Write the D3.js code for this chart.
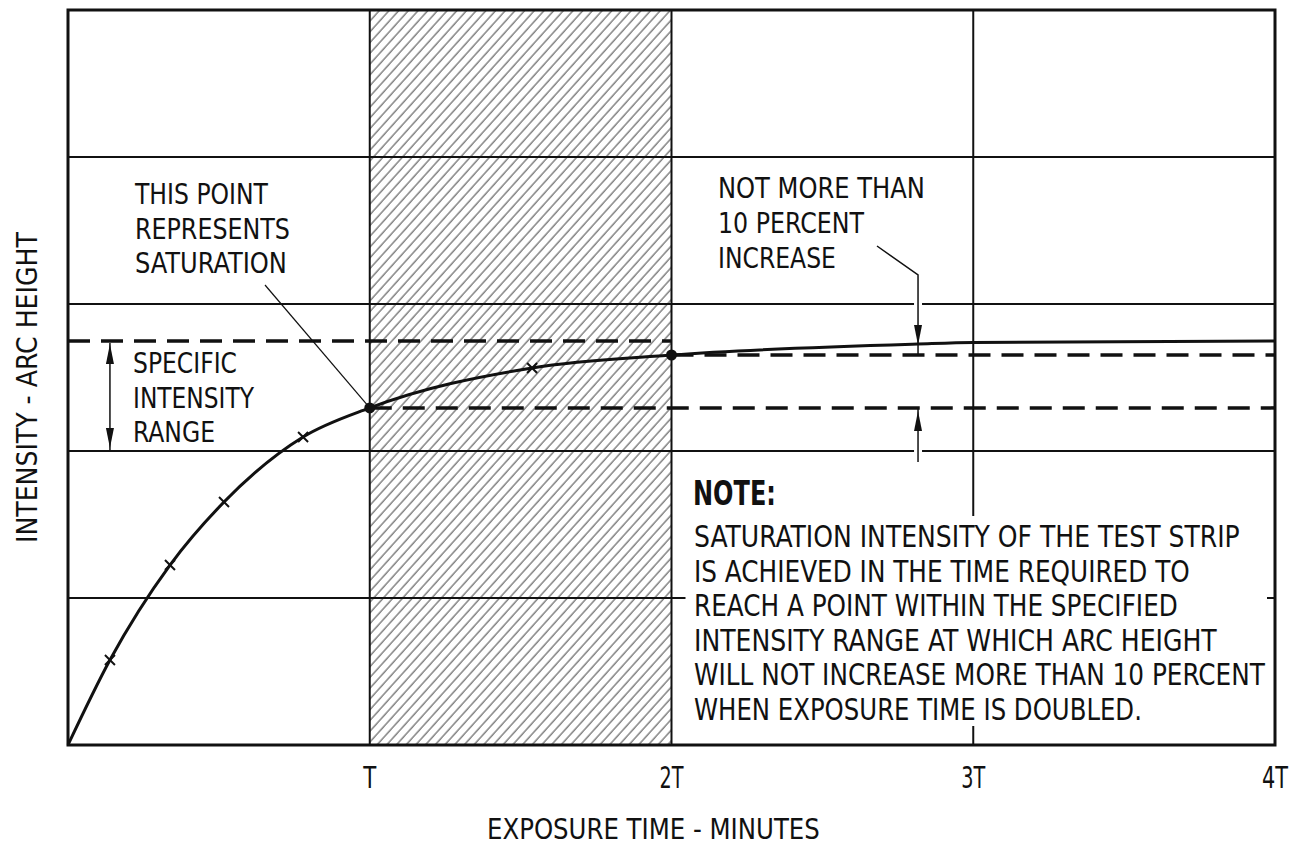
<!DOCTYPE html>
<html>
<head>
<meta charset="utf-8">
<script src="https://cdn.jsdelivr.net/npm/d3@7"></script>
<style>
  html, body { margin: 0; padding: 0; background: #fff; }
  svg { display: block; }
  text { font-family: "Liberation Sans Narrow", "Arial Narrow", "DejaVu Sans Condensed", "Liberation Sans", sans-serif; fill: #111; }
</style>
</head>
<body>
<svg id="chart" width="1297" height="848"></svg>
<script>
// ---- data ----
const xDomain = [0, 4];
const yDomain = [0, 5];
const tickValues = [1, 2, 3, 4];
const tickLabels = ["T", "2T", "3T", "4T"];
const gridX = [1, 2, 3];
const gridY = [1, 2, 3, 4];

// intensity curve (exposure time in units of T, intensity in grid units)
const curveX = [0, 0.139, 0.338, 0.517, 0.779, 1.0, 1.538, 2.0, 2.817, 3.0, 4.0];
const curveY = [0, 0.578, 1.224, 1.653, 2.095, 2.293, 2.565, 2.653, 2.728, 2.738, 2.748];

// tick ("x") marks along the curve
const markX = [0.139, 0.338, 0.517, 0.779, 1.538];
const markY = [0.578, 1.224, 1.653, 2.095, 2.565];

// filled points: saturation (T) and doubled exposure (2T)
const dotX = [1, 2];
const dotY = [2.293, 2.653];

// reference levels
const rangeTop = 2.748;
const rangeBottom = 2.0;
const satLevel = 2.293;
const doubledLevel = 2.653;
const hatchFrom = 1, hatchTo = 2;
const arrowAtX = 2.817;

const xTitle = "EXPOSURE TIME - MINUTES";
const yTitle = "INTENSITY - ARC HEIGHT";
const satLabel = ["THIS POINT", "REPRESENTS", "SATURATION"];
const rangeLabel = ["SPECIFIC", "INTENSITY", "RANGE"];
const incLabel = ["NOT MORE THAN", "10 PERCENT", "INCREASE"];
const noteTitle = "NOTE:";
const noteLines = [
  "SATURATION INTENSITY OF THE TEST STRIP",
  "IS ACHIEVED IN THE TIME REQUIRED TO",
  "REACH A POINT WITHIN THE SPECIFIED",
  "INTENSITY RANGE AT WHICH ARC HEIGHT",
  "WILL NOT INCREASE MORE THAN 10 PERCENT",
  "WHEN EXPOSURE TIME IS DOUBLED."
];

// ---- drawing ----
const svg = d3.select("#chart");
const L = 68, R = 1275, T = 10, B = 745;
const x = d3.scaleLinear().domain(xDomain).range([L, R]);
const y = d3.scaleLinear().domain(yDomain).range([B, T]);

const defs = svg.append("defs");
const pat = defs.append("pattern")
  .attr("id", "hatch").attr("patternUnits", "userSpaceOnUse")
  .attr("width", 7.2).attr("height", 7.2)
  .attr("patternTransform", "rotate(42)");
pat.append("line").attr("x1", 1).attr("y1", -1).attr("x2", 1).attr("y2", 9)
  .attr("stroke", "#555").attr("stroke-width", 1.1);

svg.append("rect").attr("width", 1297).attr("height", 848).attr("fill", "#fff");

// hatched band T..2T
svg.append("rect")
  .attr("x", x(hatchFrom)).attr("y", y(yDomain[1]))
  .attr("width", x(hatchTo) - x(hatchFrom)).attr("height", y(yDomain[0]) - y(yDomain[1]))
  .attr("fill", "url(#hatch)");

// grid
const g = svg.append("g").attr("stroke", "#111").attr("stroke-width", 2);
g.selectAll("line.v").data(gridX).join("line").attr("class", "v")
  .attr("x1", d => x(d)).attr("x2", d => x(d)).attr("y1", y(yDomain[0])).attr("y2", y(yDomain[1]));
g.selectAll("line.h").data(gridY).join("line").attr("class", "h")
  .attr("x1", x(xDomain[0])).attr("x2", x(xDomain[1])).attr("y1", d => y(d)).attr("y2", d => y(d));

// white box behind the note body
svg.append("rect").attr("x", x(2) + 14).attr("y", 516)
  .attr("width", x(4) - x(2) - 22).attr("height", 210).attr("fill", "#fff");

// small gaps in grid around the right arrows
[3, 2].forEach(v => {
  svg.append("rect").attr("x", x(arrowAtX) - 4).attr("y", y(v) - 3)
    .attr("width", 8).attr("height", 6).attr("fill", "#fff");
});

// dashed reference lines
const dashed = [
  {x0: 0, x1: 2, v: rangeTop},
  {x0: 1, x1: 4, v: satLevel},
  {x0: 2, x1: 4, v: doubledLevel}
];
svg.append("g").selectAll("line").data(dashed).join("line")
  .attr("x1", d => x(d.x0)).attr("x2", d => x(d.x1))
  .attr("y1", d => y(d.v)).attr("y2", d => y(d.v))
  .attr("stroke", "#111").attr("stroke-width", 3.5).attr("stroke-dasharray", "22 11");

// curve
const pts = curveX.map((d, i) => [d, curveY[i]]);
svg.append("path").datum(pts)
  .attr("d", d3.line().x(d => x(d[0])).y(d => y(d[1])).curve(d3.curveMonotoneX))
  .attr("fill", "none").attr("stroke", "#111").attr("stroke-width", 3);

// x marks
const mk = svg.append("g").attr("stroke", "#111").attr("stroke-width", 2);
markX.forEach((mx, i) => {
  const cx = x(mx), cy = y(markY[i]);
  mk.append("line").attr("x1", cx - 5).attr("y1", cy - 5).attr("x2", cx + 5).attr("y2", cy + 5);
  mk.append("line").attr("x1", cx - 5).attr("y1", cy + 5).attr("x2", cx + 5).attr("y2", cy - 5);
});
svg.append("g").selectAll("circle").data(dotX).join("circle")
  .attr("cx", d => x(d)).attr("cy", (d, i) => y(dotY[i])).attr("r", 5.5).attr("fill", "#111");

// frame
svg.append("rect").attr("x", L).attr("y", T).attr("width", R - L).attr("height", B - T)
  .attr("fill", "none").attr("stroke", "#111").attr("stroke-width", 3);

// helpers
function arrowHead(px, py, dir) { // dir: -1 up, 1 down; tip at (px,py)
  const h = 20, w = 4;
  svg.append("path")
    .attr("d", `M${px},${py} L${px - w},${py - dir * h} L${px + w},${py - dir * h} Z`)
    .attr("fill", "#111");
}
function vline(px, y1, y2, sw) {
  svg.append("line").attr("x1", px).attr("x2", px).attr("y1", y1).attr("y2", y2)
    .attr("stroke", "#111").attr("stroke-width", sw || 1.5);
}

// specific intensity range double arrow
const ax = x(markX[0]);
vline(ax, y(rangeTop) + 2, y(rangeBottom), 1.5);
arrowHead(ax, y(rangeTop) + 3, -1);
arrowHead(ax, y(rangeBottom) - 3, 1);

// right arrows (10 percent)
const rx = x(arrowAtX);
svg.append("path").attr("d", `M877,246 L${rx},275 L${rx},${y(doubledLevel)}`)
  .attr("fill", "none").attr("stroke", "#111").attr("stroke-width", 1.5);
arrowHead(rx, y(2.728) + 1, 1);
vline(rx, y(satLevel), 462, 1.5);
arrowHead(rx, y(satLevel) + 3, -1);

// saturation leader
svg.append("line").attr("x1", 265).attr("y1", 285).attr("x2", x(1)).attr("y2", y(satLevel))
  .attr("stroke", "#111").attr("stroke-width", 1.2);

// texts: drawn at natural size, then squeezed horizontally to the reference width
function label(str, tx, ty, w, size, weight, anchor, rot) {
  const t = svg.append("text").attr("x", 0).attr("y", 0)
    .attr("font-size", size).attr("font-weight", weight || "normal").text(str);
  const w0 = t.node().getComputedTextLength();
  const sx = w ? w / w0 : 1;
  const shift = anchor === "middle" ? -w0 / 2 : 0;
  t.attr("transform", `translate(${tx},${ty}) ${rot ? "rotate(" + rot + ")" : ""} scale(${sx},1) translate(${shift},0)`);
  return t;
}
const satW = [133, 155, 152];
satLabel.forEach((s, i) => label(s, 135, 204 + i * 34.5, satW[i], 28));
const rangeW = [104, 121, 82];
rangeLabel.forEach((s, i) => label(s, 133, 373 + i * 34.5, rangeW[i], 28));
const incW = [207, 146, 118];
incLabel.forEach((s, i) => label(s, 718, 198 + i * 35, incW[i], 28));

label(noteTitle, 693, 505, 83, 33, "bold");
const noteW = [546, 496, 484, 523, 571, 448];
noteLines.forEach((s, i) => label(s, 694, 547 + i * 34.5, noteW[i], 31));

// x tick labels
const tickW = [13, 24, 24, 26];
tickLabels.forEach((s, i) => label(s, x(tickValues[i]), 788, tickW[i], 31, "normal", "middle"));

// axis titles
label(xTitle, 487, 839, 333, 29);
label(yTitle, 37, 543, 311, 29, "normal", "start", -90);
</script>
</body>
</html>
